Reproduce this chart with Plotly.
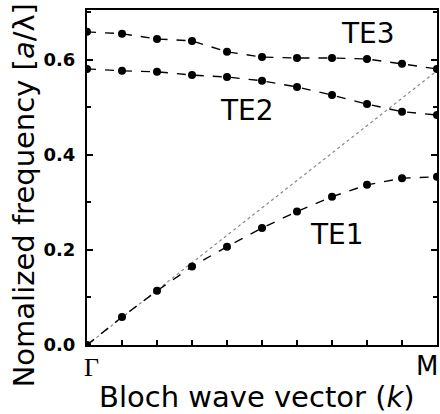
import plotly.graph_objects as go

k = list(range(11))
te1 = [0.0, 0.059, 0.114, 0.165, 0.207, 0.246, 0.281, 0.312, 0.337, 0.351, 0.354]
te2 = [0.581, 0.577, 0.575, 0.568, 0.564, 0.556, 0.543, 0.526, 0.507, 0.491, 0.484]
te3 = [0.659, 0.655, 0.644, 0.640, 0.617, 0.606, 0.604, 0.604, 0.602, 0.592, 0.581]
light_k = [0, 10]
light_f = [0.0, 0.577]
y_ticks = [0.0, 0.2, 0.4, 0.6]
y_ticklabels = ["0.0", "0.2", "0.4", "0.6"]
band_labels = [("TE3", 8.04, 0.655), ("TE2", 4.57, 0.493), ("TE1", 7.13, 0.232)]

FONT = "DejaVu Sans, Liberation Sans, Arial, sans-serif"

fig = go.Figure()
fig.add_trace(go.Scatter(x=light_k, y=light_f, mode="lines",
                         line=dict(color="#888", width=1.2, dash="dot"),
                         showlegend=False, hoverinfo="skip"))
for ys in (te1, te2, te3):
    fig.add_trace(go.Scatter(x=k, y=ys, mode="lines+markers",
                             line=dict(color="black", width=1.4, dash="dash"),
                             marker=dict(color="black", size=8),
                             showlegend=False))

for txt, xv, yv in band_labels:
    fig.add_annotation(x=xv, y=yv, text=txt, showarrow=False,
                       font=dict(family=FONT, size=28, color="black"))

# Γ and M labels
fig.add_annotation(x=0, y=0, text="Γ", showarrow=False, yshift=-22, xshift=4,
                   font=dict(family="Liberation Serif, Times New Roman, serif", size=26, color="black"))
fig.add_annotation(x=10, y=0, text="M", showarrow=False, yshift=-21, xshift=-10,
                   font=dict(family=FONT, size=26, color="black"))

# Axis titles
fig.add_annotation(xref="paper", yref="paper", x=(258 - 87) / 352, y=-0.155,
                   xanchor="center", yanchor="middle",
                   text="Bloch wave vector (<i>k</i>)", showarrow=False,
                   font=dict(family=FONT, size=29, color="black"))
fig.add_annotation(xref="paper", yref="paper", x=(24 - 87) / 352, y=(345 - 195) / 335,
                   xanchor="center", yanchor="middle",
                   text="Nomalized frequency [<i>a</i>/λ]", showarrow=False, textangle=-90,
                   font=dict(family=FONT, size=29, color="black"))

fig.update_xaxes(range=[0, 10], tickvals=k, ticktext=[""] * len(k),
                 ticks="inside", ticklen=5, tickwidth=1.5, tickcolor="black",
                 showline=True, linecolor="black", linewidth=2, mirror=True,
                 showgrid=False, zeroline=False)
fig.update_yaxes(range=[0, 0.705], tickvals=y_ticks,
                 ticktext=["<b>%s</b>" % t for t in y_ticklabels],
                 ticks="inside", ticklen=6, tickwidth=1.5, tickcolor="black",
                 minor=dict(dtick=0.1, tick0=0, ticks="inside", ticklen=4, tickcolor="black"),
                 tickfont=dict(family=FONT, size=18, color="black"),
                 ticklabelstandoff=6,
                 showline=True, linecolor="black", linewidth=2, mirror="ticks",
                 showgrid=False, zeroline=False)

fig.update_layout(width=440, height=414,
                  margin=dict(l=87, r=1, t=10, b=69),
                  plot_bgcolor="white", paper_bgcolor="white")

fig.write_html("out.html")
